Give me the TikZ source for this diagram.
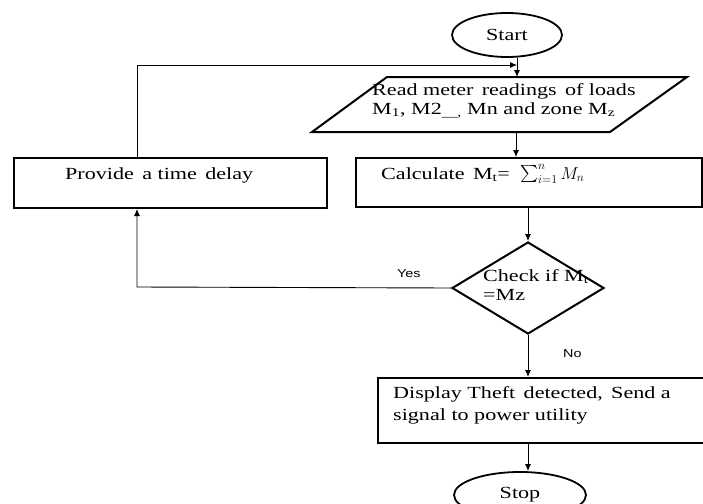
\documentclass[tikz,border=0pt]{standalone}
\usepackage{fontspec}
\setmainfont{Liberation Serif}[FakeStretch=1.3]
\newfontfamily\lblfont{Liberation Sans}[FakeStretch=1.25]
\usetikzlibrary{shapes.geometric,arrows.meta}
\begin{document}
\begin{tikzpicture}[x=1pt,y=-1pt,
  boxst/.style={draw, line width=2pt, rectangle, inner sep=0pt},
  ovalst/.style={draw, line width=1.8pt, ellipse, inner sep=0pt, font=\fontsize{17}{20}\selectfont},
  conn/.style={line width=0.9pt, -{Latex[length=7pt,width=6pt]}},
  txt/.style={anchor=base west, inner sep=0pt, font=\fontsize{17}{20}\selectfont},
  lbl/.style={anchor=base west, inner sep=0pt, font=\lblfont\fontsize{11.5}{13}\selectfont}]
\useasboundingbox[fill=white] (0,0) rectangle (703,503);
% shapes
\node[ovalst, minimum width=110pt, minimum height=44pt] (start) at (507,35) {Start};
\draw[line width=2pt, line join=miter] (312,132) -- (387,77) -- (687,77) -- (610,132) -- cycle;
\coordinate (rtop) at (517,77);
\coordinate (rbot) at (516,132);
\coordinate (fb) at (517,65);
\coordinate (loopx) at (137,287);
\node[boxst, minimum width=313pt, minimum height=50pt] (delay) at (170.5,183) {};
\node[boxst, minimum width=346pt, minimum height=49pt] (calc) at (529,182.5) {};
\node[draw, diamond, line width=2pt, minimum width=152pt, minimum height=92pt, inner sep=0pt] (check) at (528,288) {};
\node[boxst, minimum width=330pt, minimum height=65pt] (disp) at (543,410.5) {};
\node[ovalst, minimum width=132pt, minimum height=46pt] (stop) at (520,495) {Stop};
% texts
\node[txt] (t3) at (372,95) {Read meter\, readings\, of loads};
\node[txt] (t4) at (372,114) {M\textsubscript{1}, M2\textsubscript{\_\_,} Mn and zone M\textsubscript{z}};
\node[txt] (t1) at (65,179) {Provide\, a time\, delay};
\node[txt] (t2) at (381,179) {Calculate\, M\textsubscript{t}=\; $\mathop{\raisebox{-2pt}{\scalebox{1.7}{$\sum$}}}\nolimits_{i=1}^{n} M_n$};
\node[txt] (t5) at (483,281) {Check if M\textsubscript{t}};
\node[txt] (t6) at (483,300) {=Mz};
\node[txt] (t7) at (393,398) {Display Theft\, detected,\, Send a};
\node[txt] (t8) at (393,420) {signal to power utility};
\node[lbl] (yes) at (397,277) {Yes};
\node[lbl] (no) at (563,357) {No};
% connectors
\draw[conn] (start.south -| rtop) -- (rtop);
\draw[conn] (delay.north -| loopx) |- (fb);
\draw[conn] (rbot) -- (calc.north -| rbot);
\draw[conn] (calc.south -| check.north) -- (check.north);
\draw[conn] (check.west) -- (loopx) -- (delay.south -| loopx);
\draw[conn] (check.south) -- (disp.north -| check.south);
\draw[conn] (disp.south -| check.south) -- (stop.north -| check.south);
\end{tikzpicture}
\end{document}
